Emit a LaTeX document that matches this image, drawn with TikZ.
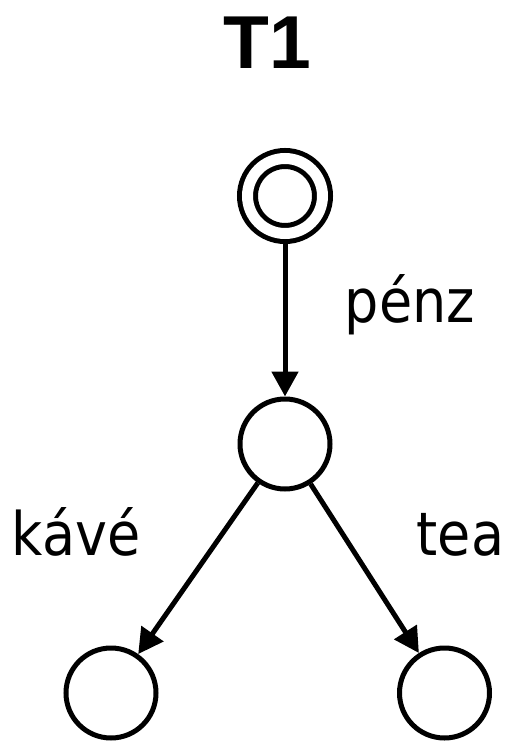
\documentclass[tikz,border=0pt]{standalone}
\usepackage{fontspec}
\newfontfamily\labelfont{DejaVu Sans}[FakeStretch=0.9]
\newfontfamily\titlefont{Liberation Sans}
\usetikzlibrary{arrows.meta}

\begin{document}
\begin{tikzpicture}[x=1pt, y=-1pt, line width=5pt,
    >={Triangle[length=25pt, width=26pt]},
    state/.style={circle, draw, minimum size=90pt, inner sep=0pt, outer sep=2.5pt},
    accepting/.style={double, double distance=11pt, minimum size=75pt, outer sep=10.5pt},
    lbl/.style={anchor=base, inner sep=0pt, font=\labelfont\fontsize{60}{72}\selectfont}]

  \useasboundingbox (0,0) rectangle (510,741);

  \node[anchor=base, inner sep=0pt, font=\titlefont\bfseries\fontsize{75}{90}\selectfont] (title) at (267.5,69) {T1};

  \node[state, accepting] (s0) at (285,196) {};
  \node[state] (s1) at (285,444) {};
  \node[state] (s2) at (111,693) {};
  \node[state] (s3) at (444.5,693) {};

  \node[lbl] (penz) at (410,322) {pénz};
  \node[lbl] (kave) at (76,555) {kávé};
  \node[lbl] (tea) at (460.5,555) {tea};

  \draw[->] (s0) -- (s1);
  \draw[->] (s1) -- (s2);
  \draw[->] (s1) -- (s3);

\end{tikzpicture}
\end{document}
